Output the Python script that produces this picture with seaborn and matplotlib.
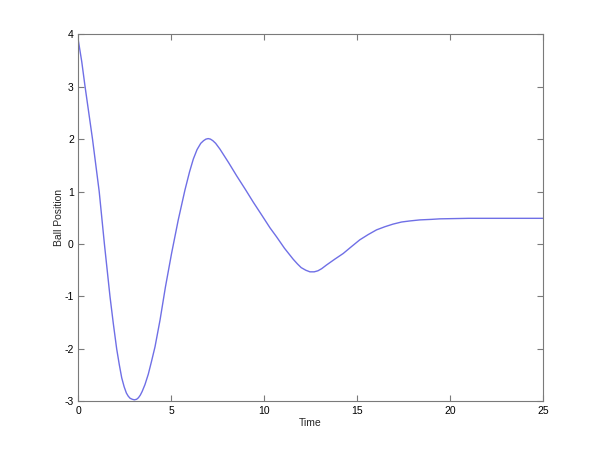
import pandas as pd
import matplotlib
matplotlib.use('Agg')
import matplotlib.pyplot as plt
import seaborn as sns

# values
time = [0.0, 0.2, 0.38, 0.58, 0.78, 0.96, 1.14, 1.42, 1.72, 1.9, 2.08, 2.22, 2.35,
        2.48, 2.6, 2.7, 2.8, 2.92, 3.03, 3.15, 3.25, 3.35, 3.45, 3.6, 3.78, 3.95,
        4.14, 4.41, 4.7, 5.03, 5.39, 5.75, 6.0, 6.2, 6.4, 6.6, 6.75, 6.88, 7.0,
        7.12, 7.25, 7.4, 7.63, 8.1, 8.53, 9.0, 9.42, 9.9, 10.32, 10.67, 11.1,
        11.57, 11.8, 12.0, 12.25, 12.47, 12.7, 12.9, 13.1, 13.36, 13.8, 14.26,
        14.7, 15.15, 15.6, 16.05, 16.5, 16.94, 17.4, 17.84, 18.38, 19.0, 19.45,
        21.0, 23.0, 25.0]
position = [3.92, 3.48, 3.0, 2.5, 2.0, 1.5, 1.0, 0.0, -1.0, -1.52, -2.0, -2.3,
            -2.55, -2.72, -2.84, -2.9, -2.94, -2.96, -2.97, -2.96, -2.93, -2.88,
            -2.81, -2.68, -2.48, -2.24, -1.96, -1.45, -0.82, -0.18, 0.46, 1.03,
            1.38, 1.62, 1.8, 1.92, 1.97, 2.0, 2.01, 2.0, 1.97, 1.92, 1.81, 1.55,
            1.3, 1.04, 0.8, 0.54, 0.31, 0.14, -0.08, -0.29, -0.38, -0.45, -0.5,
            -0.53, -0.53, -0.51, -0.47, -0.4, -0.29, -0.18, -0.05, 0.08, 0.18,
            0.27, 0.33, 0.38, 0.42, 0.44, 0.46, 0.47, 0.48, 0.49, 0.49, 0.49]

df = pd.DataFrame({'Time': time, 'Ball Position': position})

sns.set_style('ticks')
plt.rcParams['font.family'] = ['Liberation Sans', 'DejaVu Sans']
plt.rcParams['axes.unicode_minus'] = False

fig = plt.figure(figsize=(6, 4.5), dpi=100)
ax = fig.add_axes([0.13, 0.108, 0.775, 0.816])

sns.lineplot(data=df, x='Time', y='Ball Position', ax=ax,
             color='#6f6fe6', linewidth=1.0, sort=False)

ax.set_xlim(0, 25)
ax.set_ylim(-3, 4)
ax.set_xticks(range(0, 26, 5))
ax.set_yticks(range(-3, 5))
ax.set_xlabel('Time', fontsize=7.5, labelpad=2)
ax.set_ylabel('Ball Position', fontsize=7.5, labelpad=0)

for s in ax.spines.values():
    s.set_visible(True)
    s.set_color('#7a7a7a')
    s.set_linewidth(0.8)
ax.tick_params(direction='in', length=4, width=0.8, color='#7a7a7a',
               labelsize=7.5, labelcolor='black', top=True, right=True, pad=3)

fig.savefig('out.png', dpi=100, facecolor='white')
